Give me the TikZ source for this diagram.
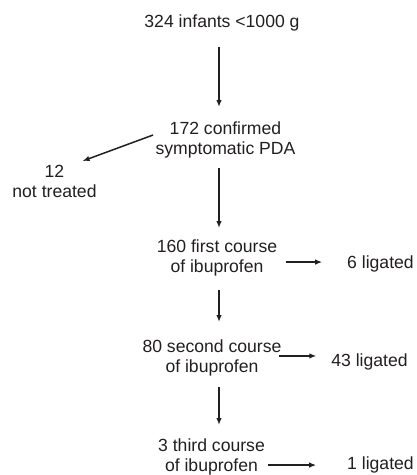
\documentclass[tikz,border=0pt]{standalone}
\usepackage{fontspec}
\setmainfont{Liberation Sans}
\usetikzlibrary{arrows.meta,calc}
\definecolor{ink}{HTML}{231F20}
\tikzset{
  lbl/.style={inner sep=0pt, outer sep=0pt, anchor=base, text=ink, font=\fontsize{17.6}{20}\selectfont},
  arr/.style={draw=ink, line width=1.5pt, -{Latex[length=7pt,width=5.5pt]}}
}
\newcommand{\twoline}[2]{\begin{tabular}[t]{@{}c@{}}#1\\#2\end{tabular}}
\begin{document}
\begin{tikzpicture}[x=1pt,y=-1pt]
\useasboundingbox[fill=white] (0,0) rectangle (416,475);
\coordinate (ax) at (219,0);
\node[lbl] (n1) at (222,27.6) {324 infants <1000 g};
\node[lbl] (n2) at (225.5,134.6) {\twoline{172 confirmed}{symptomatic PDA}};
\node[lbl] (n3) at (54.5,177.6) {\twoline{12}{not treated}};
\node[lbl] (n4) at (217,252.6) {\twoline{160 first course}{of ibuprofen}};
\node[lbl] (l1) at (380.5,268.6) {6 ligated};
\node[lbl] (n6) at (212,352) {\twoline{80 second course}{of ibuprofen}};
\node[lbl] (l2) at (369.5,366) {43 ligated};
\node[lbl] (n7) at (211.5,451) {\twoline{3 third course}{of ibuprofen}};
\node[lbl] (l3) at (380.5,469.6) {1 ligated};
% vertical arrows
\draw[arr, shorten <=15.7pt, shorten >=13.6pt] (n1.south -| ax) -- (n2.north -| ax);
\draw[arr, shorten <=7.4pt, shorten >=10.6pt] (n2.south -| ax) -- (n4.north -| ax);
\draw[arr, shorten <=11.4pt, shorten >=16pt] (n4.south -| ax) -- (n6.north -| ax);
\draw[arr, shorten <=9pt, shorten >=12pt] (n6.south -| ax) -- (n7.north -| ax);
% diagonal
\draw[arr] ($(n2.west)+(-2.5,-5.6)$) -- ($(n3.north east)+(-14,-2.6)$);
% horizontal
\draw[arr] ($(n4.east |- l1.west)+(9,-2)$) -- ($(l1.west)+(-25,-2)$);
\draw[arr] ($(n6.east |- l2.west)+(-2,-5.5)$) -- ($(l2.west)+(-15,-5.5)$);
\draw[arr] ($(n7.east |- l3.west)+(3,0)$) -- ($(l3.west)+(-31,0)$);
\end{tikzpicture}
\end{document}
